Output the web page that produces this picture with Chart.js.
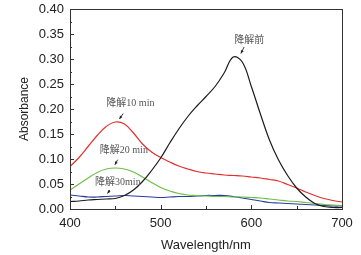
<!DOCTYPE html>
<html>
<head>
<meta charset="utf-8">
<script src="https://cdn.jsdelivr.net/npm/chart.js@4"></script>
<style>
    html, body { margin: 0; padding: 0; background: #fff; }
    #wrap { width: 361px; height: 255px; }
</style>
</head>
<body>
<div id="wrap"><canvas id="uv-chart"></canvas></div>
<script>
// wavelengths (nm)
const wavelengths = [
    400, 410, 420, 430, 440, 450, 460, 470, 480, 490, 500,
    510, 520, 530, 540, 550, 560, 570, 580, 590, 600,
    610, 620, 630, 640, 650, 660, 670, 680, 690, 700,
];

// absorbance before degradation
const before = [
    0.015, 0.016, 0.018, 0.019, 0.020, 0.021, 0.027, 0.038, 0.055, 0.077, 0.102,
    0.132, 0.160, 0.185, 0.206, 0.225, 0.245, 0.272, 0.304, 0.294, 0.245,
    0.190, 0.138, 0.098, 0.067, 0.042, 0.024, 0.011, 0.005, 0.003, 0.003,
];
// after 10 min
const min10 = [
    0.085, 0.103, 0.125, 0.147, 0.165, 0.174, 0.170, 0.152, 0.130, 0.114, 0.103,
    0.094, 0.086, 0.080, 0.075, 0.072, 0.070, 0.068, 0.067, 0.066, 0.064,
    0.062, 0.059, 0.056, 0.049, 0.042, 0.034, 0.027, 0.021, 0.017, 0.014,
];
// after 20 min
const min20 = [
    0.038, 0.050, 0.062, 0.073, 0.080, 0.082, 0.080, 0.074, 0.064, 0.053, 0.043,
    0.036, 0.031, 0.028, 0.027, 0.026, 0.025, 0.025, 0.024, 0.024, 0.023,
    0.022, 0.020, 0.018, 0.016, 0.015, 0.013, 0.011, 0.009, 0.008, 0.007,
];
// after 30 min
const min30 = [
    0.028, 0.026, 0.024, 0.024, 0.025, 0.026, 0.027, 0.026, 0.025, 0.024, 0.023,
    0.024, 0.025, 0.025, 0.026, 0.027, 0.027, 0.027, 0.025, 0.022, 0.019,
    0.016, 0.013, 0.012, 0.011, 0.010, 0.009, 0.008, 0.007, 0.006, 0.006,
];

const xTicks = [400, 500, 600, 700];
const yTicks = [0, 0.05, 0.1, 0.15, 0.2, 0.25, 0.3, 0.35, 0.4];

// labels with arrows, in data units
const notes = [
    { text: "降解前", x: 597.6, y: 0.338, from: [592, 0.324], to: [588.5, 0.311] },
    { text: "降解10 min", x: 466.6, y: 0.211, from: [458.7, 0.191], to: [454.5, 0.180] },
    { text: "降解20 min", x: 459.4, y: 0.1166, from: [452.5, 0.0985], to: [449.5, 0.0884] },
    { text: "降解30min", x: 452.8, y: 0.0523, from: [444, 0.038], to: [441.4, 0.031] },
];

function series(values, color) {
    return {
        data: wavelengths.map((w, i) => ({ x: w, y: values[i] })),
        borderColor: color,
        borderWidth: 1.2,
        pointRadius: 0,
        tension: 0.4,
        fill: false,
    };
}

// frame, inward ticks and notes
const framePlugin = {
    id: "frame",
    afterDraw(chart) {
        const { ctx, chartArea: a, scales } = chart;
        const sx = scales.x, sy = scales.y;
        ctx.save();
        ctx.strokeStyle = "#333";
        ctx.lineWidth = 1;
        ctx.strokeRect(a.left + 0.5, a.top + 0.5, a.right - a.left, a.bottom - a.top);

        ctx.beginPath();
        for (let v = 400; v <= 700; v += 50) {
            const px = Math.round(sx.getPixelForValue(v)) + 0.5;
            const len = v % 100 === 0 ? 4 : 3;
            ctx.moveTo(px, a.bottom);
            ctx.lineTo(px, a.bottom - len);
        }
        for (let i = 0; i <= 16; i++) {
            const v = i * 0.025;
            const py = Math.round(sy.getPixelForValue(v)) + 0.5;
            const len = i % 2 === 0 ? 4 : 2;
            ctx.moveTo(a.left, py);
            ctx.lineTo(a.left + len, py);
        }
        ctx.stroke();

        ctx.font = '10px "Liberation Serif", "Noto Sans CJK SC", serif';
        ctx.fillStyle = "#555";
        ctx.textAlign = "center";
        ctx.textBaseline = "middle";
        notes.forEach((n) => {
            ctx.fillText(n.text, sx.getPixelForValue(n.x), sy.getPixelForValue(n.y));
            const x1 = sx.getPixelForValue(n.from[0]), y1 = sy.getPixelForValue(n.from[1]);
            const x2 = sx.getPixelForValue(n.to[0]), y2 = sy.getPixelForValue(n.to[1]);
            const ang = Math.atan2(y2 - y1, x2 - x1);
            ctx.strokeStyle = "#222";
            ctx.lineWidth = 0.9;
            ctx.beginPath();
            ctx.moveTo(x1, y1);
            ctx.lineTo(x2, y2);
            ctx.stroke();
            ctx.fillStyle = "#222";
            ctx.beginPath();
            ctx.moveTo(x2, y2);
            ctx.lineTo(x2 - 3.5 * Math.cos(ang - 0.45), y2 - 3.5 * Math.sin(ang - 0.45));
            ctx.lineTo(x2 - 3.5 * Math.cos(ang + 0.45), y2 - 3.5 * Math.sin(ang + 0.45));
            ctx.closePath();
            ctx.fill();
            ctx.fillStyle = "#555";
        });
        ctx.restore();
    },
};

const tickFont = { family: '"Liberation Sans", Arial, sans-serif', size: 13 };

new Chart(document.getElementById("uv-chart"), {
    type: "line",
    data: {
        datasets: [
            series(before, "#1c1c1c"),
            series(min10, "#e0312f"),
            series(min20, "#6cbf4c"),
            series(min30, "#2a3c9c"),
        ],
    },
    options: {
        responsive: true,
        maintainAspectRatio: false,
        animation: false,
        devicePixelRatio: 1,
        layout: {
            padding: { top: 9, right: 19, bottom: 0, left: 0 },
        },
        plugins: {
            legend: { display: false },
            tooltip: { enabled: false },
        },
        scales: {
            x: {
                type: "linear",
                min: 400,
                max: 700,
                afterBuildTicks: (s) => { s.ticks = xTicks.map((v) => ({ value: v })); },
                afterFit: (s) => {
                    s.height = 46;
                    s.paddingLeft = 0;
                    s.paddingRight = 0;
                },
                ticks: {
                    color: "#222",
                    font: tickFont,
                    padding: 7,
                    maxRotation: 0,
                },
                grid: { display: false, drawTicks: false },
                border: { display: false },
                title: {
                    display: true,
                    text: "Wavelength/nm",
                    color: "#222",
                    font: tickFont,
                    padding: { top: 0, bottom: 2 },
                },
            },
            y: {
                min: 0,
                max: 0.4,
                afterBuildTicks: (s) => { s.ticks = yTicks.map((v) => ({ value: v })); },
                afterFit: (s) => {
                    s.width = 70;
                    s.paddingTop = 0;
                    s.paddingBottom = 0;
                },
                ticks: {
                    color: "#222",
                    font: tickFont,
                    padding: 6,
                    callback: (v) => v.toFixed(2),
                },
                grid: { display: false, drawTicks: false },
                border: { display: false },
                title: {
                    display: true,
                    text: "Absorbance",
                    color: "#222",
                    font: { family: '"Liberation Sans", Arial, sans-serif', size: 12 },
                    padding: { top: 17, bottom: 0 },
                },
            },
        },
    },
    plugins: [framePlugin],
});
</script>
</body>
</html>
